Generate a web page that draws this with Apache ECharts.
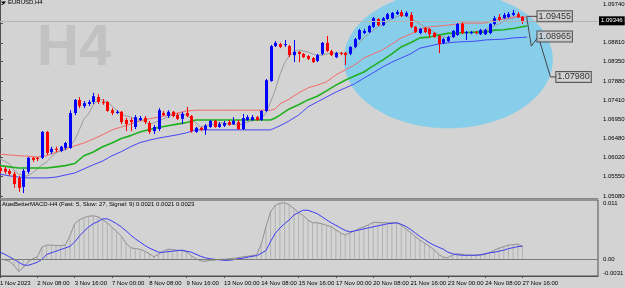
<!DOCTYPE html>
<html>
<head>
<meta charset="utf-8">
<script src="https://cdn.jsdelivr.net/npm/echarts@6/dist/echarts.min.js"></script>
<style>
  html, body { margin: 0; padding: 0; background: #d3d3d3; }
  #chart { width: 625px; height: 288px; }
</style>
</head>
<body>
<div id="chart"></div>
<script>
// EURUSD H4 bars, 1 Nov 00:00 .. 27 Nov 16:00
const opens = [1.0576,1.0574,1.0569,1.0562,1.0552,1.0530,1.0567,1.0601,1.0601,1.0601,1.0664,1.0615,1.0623,1.0618,1.0625,1.0625,1.0710,1.0742,1.0727,1.0732,1.0737,1.0749,1.0737,1.0737,1.0717,1.0710,1.0713,1.0693,1.0693,1.0676,1.0693,1.0698,1.0686,1.0666,1.0671,1.0710,1.0703,1.0713,1.0705,1.0696,1.0710,1.0703,1.0664,1.0674,1.0669,1.0676,1.0691,1.0676,1.0679,1.0688,1.0683,1.0688,1.0671,1.0693,1.0693,1.0700,1.0693,1.0715,1.0788,1.0873,1.0878,1.0876,1.0873,1.0851,1.0859,1.0854,1.0849,1.0844,1.0837,1.0854,1.0881,1.0861,1.0846,1.0856,1.0856,1.0854,1.0871,1.0890,1.0905,1.0907,1.0920,1.0939,1.0924,1.0939,1.0941,1.0951,1.0956,1.0946,1.0949,1.0920,1.0905,1.0917,1.0915,1.0905,1.0898,1.0881,1.0885,1.0895,1.0900,1.0927,1.0905,1.0905,1.0907,1.0902,1.0902,1.0905,1.0927,1.0944,1.0941,1.0944,1.0949,1.0951,1.0944];
const closes = [1.0569,1.0567,1.0562,1.0537,1.0528,1.0569,1.0601,1.0596,1.0598,1.0664,1.0613,1.0623,1.0620,1.0628,1.0637,1.0710,1.0742,1.0727,1.0734,1.0737,1.0751,1.0737,1.0734,1.0715,1.0710,1.0713,1.0688,1.0683,1.0688,1.0700,1.0698,1.0688,1.0664,1.0676,1.0717,1.0705,1.0713,1.0703,1.0696,1.0708,1.0703,1.0666,1.0674,1.0669,1.0679,1.0691,1.0676,1.0683,1.0686,1.0681,1.0691,1.0671,1.0698,1.0700,1.0700,1.0693,1.0715,1.0790,1.0873,1.0881,1.0871,1.0878,1.0851,1.0859,1.0854,1.0846,1.0842,1.0834,1.0851,1.0881,1.0861,1.0851,1.0856,1.0854,1.0851,1.0871,1.0890,1.0912,1.0910,1.0922,1.0941,1.0924,1.0941,1.0951,1.0954,1.0956,1.0946,1.0954,1.0920,1.0907,1.0915,1.0907,1.0902,1.0895,1.0878,1.0890,1.0895,1.0910,1.0927,1.0905,1.0907,1.0907,1.0905,1.0912,1.0912,1.0927,1.0941,1.0937,1.0949,1.0951,1.0954,1.0944,1.0934];
const lows = [1.0564,1.0562,1.0557,1.0528,1.0518,1.0515,1.0562,1.0591,1.0593,1.0598,1.0608,1.0610,1.0615,1.0615,1.0620,1.0623,1.0705,1.0722,1.0722,1.0727,1.0732,1.0732,1.0730,1.0713,1.0705,1.0708,1.0683,1.0666,1.0666,1.0671,1.0691,1.0683,1.0659,1.0659,1.0666,1.0703,1.0698,1.0700,1.0693,1.0683,1.0700,1.0662,1.0662,1.0666,1.0657,1.0674,1.0674,1.0674,1.0676,1.0679,1.0681,1.0669,1.0669,1.0691,1.0691,1.0691,1.0691,1.0713,1.0786,1.0871,1.0868,1.0871,1.0846,1.0834,1.0834,1.0844,1.0839,1.0832,1.0834,1.0851,1.0859,1.0849,1.0844,1.0851,1.0827,1.0851,1.0868,1.0888,1.0902,1.0905,1.0917,1.0922,1.0922,1.0937,1.0939,1.0949,1.0944,1.0944,1.0917,1.0905,1.0902,1.0905,1.0893,1.0893,1.0856,1.0878,1.0883,1.0893,1.0898,1.0902,1.0888,1.0902,1.0902,1.0900,1.0900,1.0902,1.0924,1.0934,1.0939,1.0941,1.0946,1.0941,1.0927];
const highs = [1.0581,1.0579,1.0574,1.0567,1.0557,1.0574,1.0603,1.0603,1.0603,1.0666,1.0666,1.0628,1.0628,1.0630,1.0640,1.0717,1.0744,1.0749,1.0739,1.0742,1.0759,1.0756,1.0744,1.0739,1.0722,1.0717,1.0715,1.0698,1.0698,1.0705,1.0703,1.0703,1.0691,1.0681,1.0722,1.0715,1.0717,1.0715,1.0710,1.0713,1.0725,1.0705,1.0676,1.0676,1.0683,1.0693,1.0693,1.0688,1.0691,1.0693,1.0700,1.0693,1.0708,1.0705,1.0705,1.0703,1.0717,1.0793,1.0876,1.0885,1.0881,1.0888,1.0876,1.0888,1.0861,1.0856,1.0851,1.0846,1.0854,1.0883,1.0898,1.0864,1.0859,1.0859,1.0859,1.0873,1.0893,1.0915,1.0915,1.0924,1.0944,1.0941,1.0944,1.0954,1.0956,1.0961,1.0961,1.0958,1.0956,1.0922,1.0917,1.0920,1.0917,1.0907,1.0900,1.0893,1.0898,1.0912,1.0929,1.0932,1.0910,1.0910,1.0910,1.0915,1.0915,1.0929,1.0946,1.0951,1.0954,1.0956,1.0961,1.0956,1.0946];

// fast moving average (grey), one value per bar
const fastMa = [1.0598,1.0593,1.0586,1.0571,1.0562,1.0557,1.0557,1.0564,1.0574,1.0584,1.0591,1.0603,1.0613,1.0618,1.0620,1.0630,1.0644,1.0669,1.0696,1.0708,1.0730,1.0742,1.0742,1.0737,1.0727,1.0717,1.0708,1.0703,1.0700,1.0696,1.0691,1.0691,1.0683,1.0686,1.0691,1.0696,1.0700,1.0705,1.0705,1.0708,1.0705,1.0696,1.0686,1.0676,1.0679,1.0681,1.0683,1.0686,1.0686,1.0683,1.0683,1.0681,1.0683,1.0688,1.0691,1.0693,1.0696,1.0710,1.0737,1.0766,1.0803,1.0832,1.0849,1.0859,1.0864,1.0861,1.0859,1.0854,1.0851,1.0851,1.0854,1.0856,1.0856,1.0856,1.0856,1.0859,1.0868,1.0881,1.0893,1.0902,1.0912,1.0920,1.0924,1.0932,1.0939,1.0944,1.0949,1.0946,1.0941,1.0934,1.0927,1.0920,1.0915,1.0907,1.0902,1.0895,1.0895,1.0898,1.0902,1.0905,1.0905,1.0906,1.0907,1.0910,1.0912,1.0917,1.0922,1.0927,1.0934,1.0939,1.0941,1.0944,1.0943];

// upper / middle / lower lines, read every second bar
const bandIdx = [0,2,4,6,8,10,12,14,16,18,20,22,24,26,28,30,32,34,36,38,40,42,44,46,48,50,52,54,56,58,59,60,62,64,66,68,70,72,74,76,78,80,82,84,86,88,90,92,94,96,98,100,102,104,106,108,110,112,113];
const redLine = [1.0610,1.0608,1.0606,1.0605,1.0603,1.0606,1.0615,1.0623,1.0630,1.0637,1.0647,1.0657,1.0669,1.0676,1.0683,1.0691,1.0696,1.0700,1.0705,1.0710,1.0715,1.0717,1.0717,1.0717,1.0717,1.0717,1.0717,1.0717,1.0717,1.0717,1.0720,1.0732,1.0744,1.0759,1.0771,1.0778,1.0786,1.0803,1.0815,1.0827,1.0844,1.0854,1.0864,1.0878,1.0893,1.0902,1.0915,1.0920,1.0922,1.0924,1.0927,1.0929,1.0929,1.0929,1.0937,1.0939,1.0944,1.0944,1.0944];
const greenLine = [1.0582,1.0579,1.0576,1.0576,1.0576,1.0576,1.0579,1.0582,1.0587,1.0606,1.0615,1.0628,1.0637,1.0648,1.0655,1.0664,1.0670,1.0675,1.0679,1.0683,1.0687,1.0693,1.0693,1.0693,1.0693,1.0693,1.0693,1.0693,1.0693,1.0693,1.0698,1.0705,1.0720,1.0730,1.0742,1.0751,1.0764,1.0778,1.0790,1.0800,1.0810,1.0825,1.0839,1.0854,1.0871,1.0881,1.0893,1.0895,1.0900,1.0904,1.0905,1.0906,1.0907,1.0907,1.0912,1.0913,1.0916,1.0920,1.0922];
const blueLine = [1.0561,1.0557,1.0554,1.0552,1.0552,1.0552,1.0554,1.0559,1.0564,1.0574,1.0584,1.0593,1.0606,1.0616,1.0628,1.0638,1.0644,1.0649,1.0653,1.0657,1.0662,1.0669,1.0669,1.0669,1.0669,1.0669,1.0669,1.0669,1.0669,1.0669,1.0674,1.0679,1.0691,1.0705,1.0725,1.0737,1.0749,1.0761,1.0771,1.0781,1.0795,1.0808,1.0822,1.0834,1.0844,1.0854,1.0868,1.0873,1.0878,1.0881,1.0883,1.0884,1.0885,1.0888,1.0889,1.0890,1.0893,1.0894,1.0895];

// projection path and its price boxes
const projPath = [[112.9, 1.0944], [113.9, 1.0873], [115.4, 1.0896], [118.0, 1.0798], [119.2, 1.0798]];
const projLink = [[112.9, 1.09455], [115.2, 1.09455]];
const projBoxX = [115.2, 115.2, 119.25];
const projBoxPrice = [1.09455, 1.08965, 1.07980];

// highlighted zone (centre bar / price, half width in bars / price)
const zoneCenter = [96.1, 1.0840];
const zoneRadius = [22.4, 0.0167];

const bidPrice = 1.09346;

// MACD (5, 27, 9)
const macdMain = [0,-0.00009,-0.00038,-0.00113,-0.00226,-0.0015,-0.00056,0.00009,0.00047,0.00226,0.00263,0.00263,0.00254,0.00254,0.00263,0.00438,0.00658,0.00733,0.00771,0.00799,0.00808,0.0079,0.00733,0.00677,0.00592,0.00517,0.00432,0.00301,0.00216,0.00197,0.00188,0.0015,0.00103,0.00047,0.00094,0.0015,0.00188,0.00179,0.00169,0.0016,0.00141,0.00066,0.00009,-0.00028,-0.00038,-0.00019,-0.00019,0,0,0.00009,0.00019,0.00028,0.00047,0.00056,0.00066,0.00085,0.0028,0.006,0.0088,0.0100,0.0104,0.0105,0.0101,0.0094,0.0087,0.0081,0.0073,0.0068,0.00677,0.00658,0.0063,0.00602,0.00545,0.00489,0.00451,0.00489,0.00526,0.00573,0.00602,0.00639,0.00686,0.00686,0.00677,0.00677,0.00677,0.00677,0.00639,0.00564,0.00498,0.00423,0.00357,0.00301,0.00244,0.00179,0.00094,0.00038,0.00028,0.00075,0.00103,0.00094,0.00075,0.00075,0.00075,0.00075,0.00094,0.00122,0.00169,0.00207,0.00235,0.00263,0.00273,0.00282,0.00244];
const macdSignal = [0.00132,0.00094,0.00047,0,-0.00056,-0.00103,-0.00113,-0.00085,-0.00056,0,0.0009,0.0012,0.0015,0.0018,0.0021,0.0024,0.0032,0.0043,0.0052,0.006,0.0066,0.007,0.0075,0.0075,0.0071,0.0066,0.006,0.0053,0.0045,0.0038,0.0032,0.0026,0.0021,0.0017,0.0013,0.0013,0.00141,0.0015,0.0016,0.00169,0.0015,0.00132,0.00094,0.00056,0.00028,0.00009,0,-0.00009,-0.00019,-0.00019,-0.00009,0.00009,0.00019,0.00038,0.00056,0.00066,0.0011,0.0016,0.0033,0.0048,0.0058,0.0066,0.0073,0.0082,0.0087,0.0091,0.0091,0.0088,0.00846,0.0079,0.00733,0.00677,0.0063,0.00583,0.00536,0.00508,0.00526,0.00545,0.00564,0.00583,0.00602,0.0062,0.00639,0.00658,0.00667,0.00677,0.00649,0.00611,0.00555,0.00489,0.00423,0.00367,0.0031,0.00263,0.00226,0.00188,0.00132,0.00103,0.00085,0.00075,0.00075,0.00075,0.00075,0.00085,0.00103,0.00122,0.00132,0.0015,0.00169,0.00197,0.00216,0.00235,0.00244];

// axis ticks
const priceTicks = [1.0508, 1.0555, 1.0602, 1.0648, 1.0695, 1.0741, 1.0788, 1.0835, 1.0881, 1.0928, 1.0974];
const macdTicks = [0.011, 0, -0.0031];
const macdTickText = ['0.011', '0.00', '-0.0031'];
const timeLabels = ['1 Nov 2023', '2 Nov 08:00', '3 Nov 16:00', '7 Nov 00:00', '8 Nov 08:00', '9 Nov 16:00', '13 Nov 00:00', '14 Nov 08:00', '15 Nov 16:00', '17 Nov 00:00', '20 Nov 08:00', '21 Nov 16:00', '23 Nov 00:00', '24 Nov 08:00', '27 Nov 16:00'];
const labelStep = 8;

const chart = echarts.init(document.getElementById('chart'));

const FONT = 'Liberation Sans';
const BG = '#d3d3d3';
const AXIS = '#505050';
const X_MIN = 0, X_MAX = 128.19;

const candleData = opens.map((o, i) => [i, o, closes[i], lows[i], highs[i]]);
const band = (vals) => bandIdx.map((b, k) => [b, vals[k]]);

function renderCandle(params, api) {
  const i = api.value(0);
  const o = api.value(1), c = api.value(2);
  const pO = api.coord([i, o]);
  const pC = api.coord([i, c]);
  const pL = api.coord([i, api.value(3)]);
  const pH = api.coord([i, api.value(4)]);
  const x = Math.round(pO[0]) + 0.5;
  const color = c >= o ? '#0000ff' : '#ff0000';
  const top = Math.min(pO[1], pC[1]);
  const h = Math.max(Math.abs(pO[1] - pC[1]), 1);
  return {
    type: 'group',
    children: [
      { type: 'line', shape: { x1: x, y1: pH[1], x2: x, y2: pL[1] }, style: { stroke: color, lineWidth: 1 } },
      { type: 'rect', shape: { x: x - 1.5, y: top, width: 3, height: h }, style: { fill: color } }
    ]
  };
}

function renderZone(params, api) {
  const c = api.coord([api.value(0), api.value(1)]);
  const r = api.size(zoneRadius);
  const pts = [];
  for (let k = 0; k < 120; k++) {
    const t = (k / 120) * Math.PI * 2;
    pts.push([c[0] + r[0] * Math.cos(t), c[1] + r[1] * Math.sin(t)]);
  }
  return { type: 'polygon', shape: { points: pts }, style: { fill: '#87ceeb' } };
}

const option = {
  backgroundColor: BG,
  animation: false,
  textStyle: { fontFamily: FONT },
  title: [
    { text: 'EURUSD,H4', left: 8, top: -1, padding: 0, textStyle: { fontSize: 6, fontWeight: 'normal', color: '#000', fontFamily: FONT } },
    { text: 'AtasBetterMACD-H4 (Fast: 5, Slow: 27, Signal: 9) 0.0021 0.0021 0.0023', left: 2, top: 201, padding: 0,
      textStyle: { fontSize: 6, fontWeight: 'normal', color: '#000', fontFamily: FONT } }
  ],
  graphic: [
    { type: 'polygon', z: 0, shape: { points: [[1, 1.5], [6, 1.5], [3.5, 4.5]] }, style: { fill: '#000' } },
    { type: 'text', z: 0, x: 37, y: 49, style: { text: 'H4', font: 'bold 58px "Liberation Sans"', fill: '#c2c2c2', verticalAlign: 'middle', align: 'left' } }
  ],
  grid: [
    { left: 0, top: 0, width: 598, height: 198, containLabel: false, outerBoundsMode: 'none' },
    { left: 0, top: 200, width: 598, height: 76, containLabel: false, outerBoundsMode: 'none',
      show: true, borderColor: AXIS, borderWidth: 1, backgroundColor: 'transparent' }
  ],
  xAxis: [
    { gridIndex: 0, type: 'value', min: X_MIN, max: X_MAX,
      axisLine: { show: true, lineStyle: { color: '#8a8a8a', width: 1 } },
      axisTick: { show: false }, axisLabel: { show: false }, splitLine: { show: false } },
    { gridIndex: 1, type: 'value', min: X_MIN, max: X_MAX,
      axisLine: { show: true, onZero: false, lineStyle: { color: AXIS } },
      axisTick: { show: true, customValues: timeLabels.map((_, k) => k * labelStep), length: 2, lineStyle: { color: AXIS } },
      axisLabel: { show: true, customValues: timeLabels.map((_, k) => k * labelStep),
        formatter: (v) => timeLabels[Math.round(v / labelStep)] || '',
        align: 'left', fontSize: 6, color: '#000', margin: 4, fontFamily: FONT },
      splitLine: { show: false } }
  ],
  yAxis: [
    { gridIndex: 0, type: 'value', position: 'right', min: 1.05031, max: 1.09853, scale: true,
      axisLine: { show: true, lineStyle: { color: AXIS } },
      axisTick: { show: true, customValues: priceTicks, length: 3, lineStyle: { color: AXIS } },
      axisLabel: { show: true, customValues: priceTicks, formatter: (v) => v.toFixed(5),
        fontSize: 6, color: '#000', margin: 5, fontFamily: FONT },
      splitLine: { show: false } },
    { gridIndex: 1, type: 'value', position: 'right', min: -0.0031, max: 0.011,
      axisLine: { show: true, lineStyle: { color: AXIS } },
      axisTick: { show: false },
      axisLabel: { show: true, customValues: macdTicks, margin: 5, fontSize: 6, color: '#000', fontFamily: FONT,
        formatter: (v) => {
          if (Math.abs(v - macdTicks[0]) < 1e-6) return '{t|' + macdTickText[0] + '}';
          if (Math.abs(v - macdTicks[2]) < 1e-6) return '{b|' + macdTickText[2] + '}';
          return '{m|' + macdTickText[1] + '}';
        },
        rich: {
          t: { fontSize: 6, color: '#000', fontFamily: FONT, padding: [6, 0, 0, 0] },
          m: { fontSize: 6, color: '#000', fontFamily: FONT },
          b: { fontSize: 6, color: '#000', fontFamily: FONT, padding: [0, 0, 6, 0] }
        } },
      splitLine: { show: false } }
  ],
  series: [
    { name: 'zone', type: 'custom', xAxisIndex: 0, yAxisIndex: 0, z: 1, clip: true, silent: true,
      renderItem: renderZone, encode: { x: 0, y: 1 }, data: [zoneCenter] },
    { name: 'fast', type: 'line', xAxisIndex: 0, yAxisIndex: 0, z: 3, showSymbol: false, silent: true,
      lineStyle: { color: '#9a9a9a', width: 1 }, data: fastMa.map((v, i) => [i, v]),
      markLine: { silent: true, symbol: ['none', 'none'], animation: false, precision: 5,
        lineStyle: { color: '#b4b4b4', type: 'solid', width: 1 },
        label: { show: true, position: 'end', distance: 1, formatter: () => bidPrice.toFixed(5),
          backgroundColor: '#000', color: '#fff', fontSize: 6, padding: [2, 2, 1, 2], fontFamily: FONT },
        data: [{ yAxis: bidPrice }] } },
    { name: 'upper', type: 'line', xAxisIndex: 0, yAxisIndex: 0, z: 3, showSymbol: false, silent: true,
      lineStyle: { color: '#f36a6a', width: 1 }, data: band(redLine) },
    { name: 'middle', type: 'line', xAxisIndex: 0, yAxisIndex: 0, z: 3, showSymbol: false, silent: true,
      lineStyle: { color: '#1fb01f', width: 1.6 }, data: band(greenLine) },
    { name: 'lower', type: 'line', xAxisIndex: 0, yAxisIndex: 0, z: 3, showSymbol: false, silent: true,
      lineStyle: { color: '#4646f5', width: 1 }, data: band(blueLine) },
    { name: 'candles', type: 'custom', xAxisIndex: 0, yAxisIndex: 0, z: 4, clip: true, silent: true,
      renderItem: renderCandle, encode: { x: 0, y: [1, 2, 3, 4] }, data: candleData },
    { name: 'projection', type: 'line', xAxisIndex: 0, yAxisIndex: 0, z: 5, showSymbol: false, silent: true,
      lineStyle: { color: '#454545', width: 1 }, data: projPath },
    { name: 'link', type: 'line', xAxisIndex: 0, yAxisIndex: 0, z: 5, showSymbol: false, silent: true,
      lineStyle: { color: '#454545', width: 1 }, data: projLink },
    { name: 'boxes', type: 'scatter', xAxisIndex: 0, yAxisIndex: 0, z: 6, symbolSize: 0, silent: true,
      data: projBoxX.map((x, k) => [x, projBoxPrice[k]]),
      label: { show: true, position: 'right', distance: 0, formatter: (p) => p.value[1].toFixed(5),
        fontSize: 9, lineHeight: 9, color: '#000', fontFamily: FONT,
        backgroundColor: BG, borderColor: '#3a3a3a', borderWidth: 1, padding: [1, 1, 0, 1] } },
    { name: 'hist', type: 'bar', xAxisIndex: 1, yAxisIndex: 1, z: 2, barWidth: 1, silent: true,
      itemStyle: { color: '#b2b2b2' }, data: macdMain.map((v, i) => [i, v]),
      markLine: { silent: true, symbol: ['none', 'none'], animation: false, label: { show: false },
        lineStyle: { color: '#7a7a7a', type: 'solid', width: 1 }, data: [{ yAxis: 0 }] } },
    { name: 'macd', type: 'line', xAxisIndex: 1, yAxisIndex: 1, z: 3, showSymbol: false, silent: true,
      lineStyle: { color: '#909090', width: 1 }, data: macdMain.map((v, i) => [i, v]) },
    { name: 'signal', type: 'line', xAxisIndex: 1, yAxisIndex: 1, z: 3, showSymbol: false, silent: true,
      lineStyle: { color: '#3c3cf0', width: 1 }, data: macdSignal.map((v, i) => [i, v]) }
  ]
};

chart.setOption(option);
</script>
</body>
</html>
